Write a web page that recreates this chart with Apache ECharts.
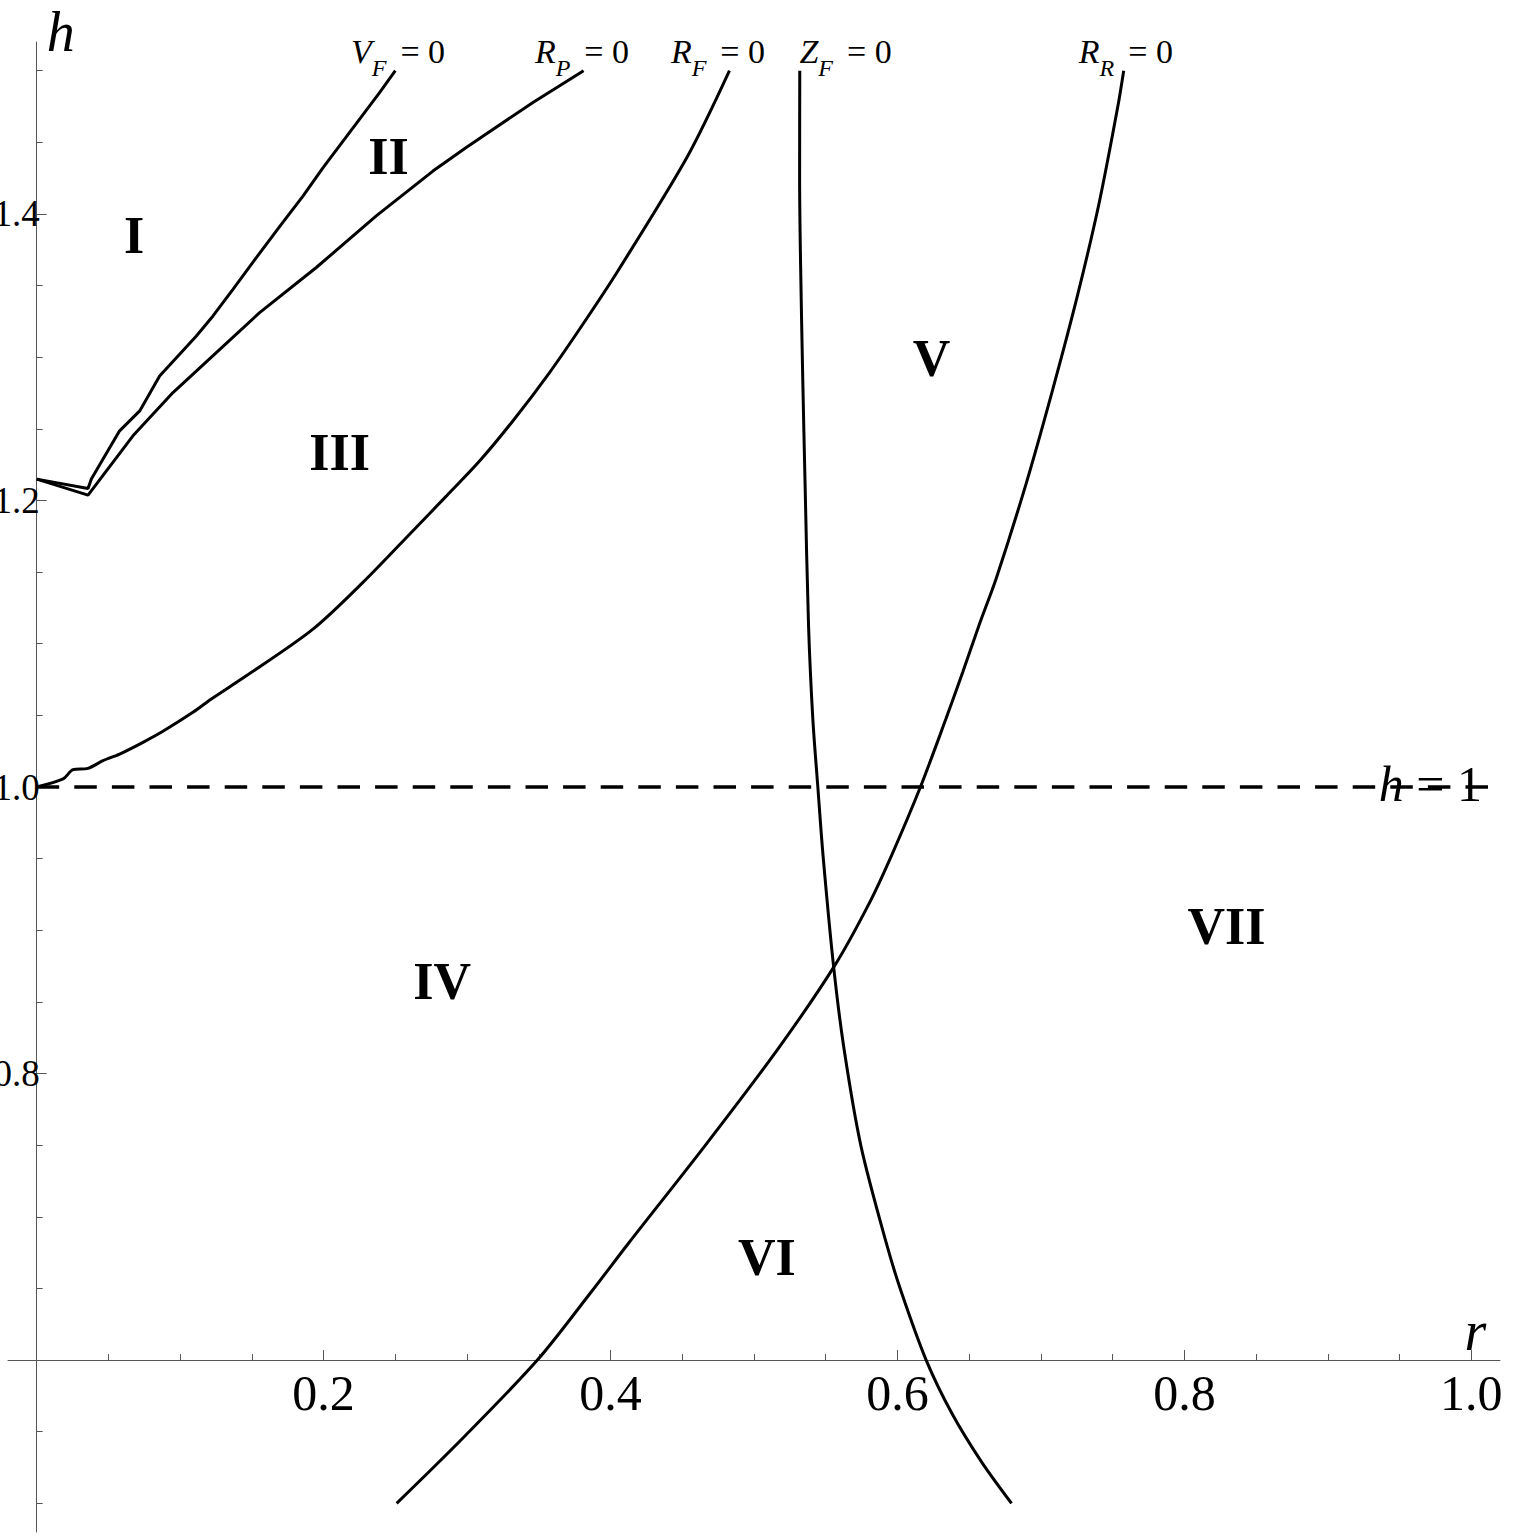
<!DOCTYPE html>
<html>
<head>
<meta charset="utf-8">
<script src="https://cdn.jsdelivr.net/npm/echarts@6/dist/echarts.min.js"></script>
<style>
html,body{margin:0;padding:0;background:#fff;}
#chart{width:1535px;height:1537px;}
</style>
</head>
<body>
<div id="chart"></div>
<script>
// ---------------- data ----------------
const vfR = [0, 0.0358, 0.0381, 0.0578, 0.0718, 0.0857, 0.1113, 0.1229, 0.1368, 0.1531, 0.1705, 0.1856, 0.1995, 0.239, 0.25];
const vfH = [1.2149, 1.2084, 1.2149, 1.2486, 1.2625, 1.2869, 1.3148, 1.3288, 1.3474, 1.3695, 1.3927, 1.4124, 1.4322, 1.4847, 1.5];

const rpR = [0, 0.0358, 0.0671, 0.095, 0.1252, 0.1554, 0.1949, 0.2367, 0.2762, 0.2994, 0.3459, 0.3812];
const rpH = [1.2149, 1.2037, 1.2451, 1.2753, 1.3032, 1.3311, 1.3626, 1.3986, 1.4299, 1.4464, 1.4778, 1.5];

const rfR = [0, 0.0184, 0.0253, 0.0358, 0.0462, 0.0578, 0.0741, 0.088, 0.1089, 0.1217, 0.1461, 0.1926, 0.2274, 0.2623, 0.2855, 0.3087, 0.3319, 0.3575, 0.3807, 0.4051, 0.4535, 0.4829];
const rfH = [1.0, 1.0056, 1.0121, 1.013, 1.0184, 1.023, 1.0312, 1.0389, 1.0521, 1.0614, 1.0776, 1.1102, 1.1428, 1.1789, 1.203, 1.2275, 1.2555, 1.2893, 1.323, 1.3602, 1.4399, 1.5];

const zfR = [0.5319, 0.5318, 0.5324, 0.534, 0.5356, 0.538, 0.541, 0.5445, 0.5481, 0.5555, 0.5628, 0.5746, 0.5923, 0.6027, 0.62, 0.638, 0.6587, 0.6795];
const zfH = [1.5, 1.4251, 1.3693, 1.284, 1.2118, 1.1133, 1.0476, 1.0, 0.9525, 0.8746, 0.8169, 0.7492, 0.6814, 0.6475, 0.6, 0.5627, 0.5288, 0.5];

const rrR = [0.7577, 0.7535, 0.7408, 0.7255, 0.7082, 0.6897, 0.669, 0.657, 0.6456, 0.6338, 0.616, 0.596, 0.5802, 0.5558, 0.5165, 0.4655, 0.4124, 0.3865, 0.349, 0.2973, 0.2509];
const rrH = [1.5, 1.4744, 1.4087, 1.3431, 1.2774, 1.2118, 1.1461, 1.1133, 1.0804, 1.0476, 1.0, 0.9525, 0.9186, 0.8746, 0.8169, 0.7492, 0.6814, 0.6475, 0.6, 0.5458, 0.5];

const refR = [0, 1.012];
const refH = [1, 1];

const curveSymbols = [['V','F'], ['R','P'], ['R','F'], ['Z','F'], ['R','R']];
const curveLabelR = [0.2519, 0.3801, 0.4749, 0.5638, 0.7592];
const curveLabelH = [1.5137, 1.5137, 1.5137, 1.5137, 1.5137];

const regionNames = ['I', 'II', 'III', 'IV', 'V', 'VI', 'VII'];
const regionR = [0.0679, 0.2452, 0.2111, 0.2826, 0.6237, 0.5089, 0.8293];
const regionH = [1.385, 1.4401, 1.2337, 0.864, 1.299, 0.6715, 0.9023];

const xMajorTicks = [0.2, 0.4, 0.6, 0.8, 1.0];
const xMinorTicks = [0.05, 0.1, 0.15, 0.25, 0.3, 0.35, 0.45, 0.5, 0.55, 0.65, 0.7, 0.75, 0.85, 0.9, 0.95];
const yMajorTicks = [0.6, 0.8, 1.0, 1.2, 1.4];
const yTickLabels = [0.8, 1.0, 1.2, 1.4];
const yMinorTicks = [0.5, 0.55, 0.65, 0.7, 0.75, 0.85, 0.9, 0.95, 1.05, 1.1, 1.15, 1.25, 1.3, 1.35, 1.45, 1.5];

const X_MIN = -0.02, X_MAX = 1.02, Y_MIN = 0.48, Y_MAX = 1.52;
const X_CROSS = 0, Y_CROSS = 0.6;

// ---------------- layout ----------------
const W = 1535, H = 1537;
const grid = {left: 8, right: 35, top: 42, bottom: 5, containLabel: false, outerBoundsMode: 'none'};
const gw = W - grid.left - grid.right;
const gh = H - grid.top - grid.bottom;
const xAxisOffset = -(Y_CROSS - Y_MIN) / (Y_MAX - Y_MIN) * gh;
const yAxisOffset = -(X_CROSS - X_MIN) / (X_MAX - X_MIN) * gw;

const SERIF = '"Liberation Serif", "Times New Roman", serif';
const AX = '#555';
const NOBORDER = {textBorderWidth: 0, textBorderColor: 'transparent', textShadowBlur: 0, opacity: 1};

function pairs(rs, hs) { return rs.map((r, i) => [r, hs[i]]); }

function curve(name, rs, hs, smooth) {
  return {
    type: 'line', name: name, data: pairs(rs, hs),
    showSymbol: false, symbol: 'none', smooth: smooth || false,
    lineStyle: {color: '#000', width: 3}, z: 3, silent: true, clip: false
  };
}

function xAxisCfg(ticks, len, labels) {
  return {
    type: 'value', min: X_MIN, max: X_MAX, position: 'bottom', offset: xAxisOffset,
    axisLine: {show: labels, onZero: false, lineStyle: {color: AX, width: 1}},
    axisTick: {show: true, inside: true, length: len, customValues: ticks, lineStyle: {color: AX, width: 1}},
    axisLabel: labels ? {
      show: true, customValues: xMajorTicks, formatter: v => v.toFixed(1),
      fontFamily: SERIF, fontSize: 50, color: '#000', margin: 8
    } : {show: false},
    splitLine: {show: false}
  };
}
function yAxisCfg(ticks, len, labels) {
  return {
    type: 'value', min: Y_MIN, max: Y_MAX, position: 'left', offset: yAxisOffset,
    axisLine: {show: labels, onZero: false, lineStyle: {color: AX, width: 1}},
    axisTick: {show: true, inside: true, length: len, customValues: ticks, lineStyle: {color: AX, width: 1}},
    axisLabel: labels ? {
      show: true, customValues: yTickLabels, formatter: v => v.toFixed(1),
      fontFamily: SERIF, fontSize: 37, color: '#000', margin: -3
    } : {show: false},
    splitLine: {show: false}
  };
}

const chart = echarts.init(document.getElementById('chart'), null, {renderer: 'svg', width: W, height: H});

chart.setOption({
  animation: false,
  backgroundColor: '#fff',
  grid: grid,
  xAxis: [xAxisCfg(xMajorTicks, 10, true), xAxisCfg(xMinorTicks, 6, false)],
  yAxis: [yAxisCfg(yMajorTicks, 10, true), yAxisCfg(yMinorTicks, 6, false)],
  series: [
    curve('V_F = 0', vfR, vfH, false),
    curve('R_P = 0', rpR, rpH, false),
    curve('R_F = 0', rfR, rfH, 0.3),
    curve('Z_F = 0', zfR, zfH, 0.3),
    curve('R_R = 0', rrR, rrH, 0.3),
    {
      type: 'line', name: 'h = 1', data: pairs(refR, refH), showSymbol: false, symbol: 'none',
      lineStyle: {color: '#000', width: 3.5, type: [22.5, 15.1]}, z: 3, silent: true
    },
    {
      type: 'scatter', name: 'regions', clip: false, symbolSize: 0, silent: true, z: 5,
      itemStyle: {color: '#000', opacity: 1},
      data: regionNames.map((n, i) => ({name: n, value: [regionR[i], regionH[i]]})),
      label: Object.assign({show: true, position: 'inside', formatter: p => p.name,
              fontFamily: SERIF, fontWeight: 'bold', fontSize: 52, color: '#000'}, NOBORDER)
    },
    {
      type: 'scatter', name: 'curveLabels', clip: false, symbolSize: 0, silent: true, z: 5,
      itemStyle: {color: '#000', opacity: 1},
      data: curveSymbols.map((c, i) => ({name: '{m|' + c[0] + '}{s|' + c[1] + '}{e|= 0}', value: [curveLabelR[i], curveLabelH[i]]})),
      label: Object.assign({show: true, position: 'inside', formatter: p => p.name, color: '#000',
        rich: {
          m: Object.assign({fontFamily: SERIF, fontStyle: 'italic', fontSize: 34, color: '#000'}, NOBORDER),
          s: Object.assign({fontFamily: SERIF, fontStyle: 'italic', fontSize: 24, color: '#000', padding: [33, 0, 0, 0]}, NOBORDER),
          e: Object.assign({fontFamily: SERIF, fontSize: 34, color: '#000', padding: [0, 0, 0, 14]}, NOBORDER)
        }}, NOBORDER)
    },
    {
      type: 'scatter', name: 'refLabel', clip: false, symbolSize: 0, silent: true, z: 5,
      itemStyle: {color: '#000', opacity: 1},
      data: [{name: '{i|h}{n| = 1}', value: [0.9714, 1.0021]}],
      label: Object.assign({show: true, position: 'inside', formatter: p => p.name, color: '#000',
        rich: {
          i: Object.assign({fontFamily: SERIF, fontStyle: 'italic', fontSize: 50, color: '#000'}, NOBORDER),
          n: Object.assign({fontFamily: SERIF, fontSize: 50, color: '#000'}, NOBORDER)
        }}, NOBORDER)
    },
    {
      type: 'scatter', name: 'axisNames', clip: false, symbolSize: 0, silent: true, z: 5,
      itemStyle: {color: '#000', opacity: 1},
      data: [{name: 'h', value: [0.0167, 1.5269]}, {name: 'r', value: [1.0028, 0.6202]}],
      label: Object.assign({show: true, position: 'inside', formatter: p => p.name,
              fontFamily: SERIF, fontStyle: 'italic', fontSize: 56, color: '#000'}, NOBORDER)
    }
  ]
});
</script>
</body>
</html>
